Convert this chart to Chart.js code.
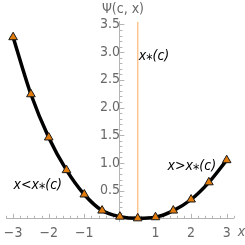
<!DOCTYPE html>
<html>
<head>
<meta charset="utf-8">
<script src="https://cdn.jsdelivr.net/npm/chart.js@4/dist/chart.umd.min.js"></script>
<style>
html,body{margin:0;padding:0;background:#fff;}
#c{display:block;}
</style>
</head>
<body>
<canvas id="c" width="245" height="245"></canvas>
<script>
// ---- data ----
const xValues = [-3, -2.5, -2, -1.5, -1, -0.5, 0, 0.5, 1, 1.5, 2, 2.5, 3];
const psiValues = [3.27, 2.24, 1.46, 0.87, 0.43, 0.14, 0.03, 0.0, 0.02, 0.14, 0.34, 0.65, 1.05];
const xStar = 0.5;
const xTickValues = [-3, -2, -1, 1, 2, 3];
const xTickLabels = ['\u22123', '\u22122', '\u22121', '1', '2', '3'];
const yTickValues = [0.5, 1.0, 1.5, 2.0, 2.5, 3.0, 3.5];
const yTickLabels = ['0.5', '1.0', '1.5', '2.0', '2.5', '3.0', '3.5'];
const xMinorStep = 0.2;
const yMinorStep = 0.1;
const annotations = [
  {text: 'x\u204E(c)', x: 0.53, y: 2.93},
  {text: 'x<x\u204E(c)', x: -2.99, y: 0.60},
  {text: 'x>x\u204E(c)', x: 1.34, y: 0.93}
];
const xAxisTitle = 'x';
const yAxisTitle = '\u03A8(c, x)';

const FONT = "'Liberation Sans Narrow', 'DejaVu Sans Condensed', 'Roboto Condensed', 'Liberation Sans', sans-serif";
const AXIS_COLOR = '#b4b4b4';
const LABEL_COLOR = '#686868';

const curve = xValues.map((x, i) => ({x: x, y: psiValues[i]}));
const starLine = [{x: xStar, y: 0}, {x: xStar, y: 3.55}];

const extras = {
  id: 'extras',
  beforeDatasetsDraw(chart) {
    const ctx = chart.ctx;
    const xs = chart.scales.x, ys = chart.scales.y;
    const x0 = xs.getPixelForValue(0), y0 = ys.getPixelForValue(0);
    ctx.save();
    ctx.strokeStyle = AXIS_COLOR;
    ctx.lineWidth = 1;
    for (let k = -16; k <= 16; k++) {
      const v = +(k * xMinorStep).toFixed(3);
      if (v < xs.min || v > xs.max || v === 0) continue;
      const major = Math.abs(v - Math.round(v)) < 1e-6;
      const px = Math.round(xs.getPixelForValue(v)) + 0.5;
      ctx.beginPath();
      ctx.moveTo(px, y0);
      ctx.lineTo(px, y0 - (major ? 4.5 : 2.5));
      ctx.stroke();
    }
    for (let k = 1; k <= 40; k++) {
      const v = +(k * yMinorStep).toFixed(3);
      if (v > ys.max) continue;
      const major = Math.abs(v * 2 - Math.round(v * 2)) < 1e-6;
      const py = Math.round(ys.getPixelForValue(v)) + 0.5;
      ctx.beginPath();
      ctx.moveTo(x0, py);
      ctx.lineTo(x0 + (major ? 4.5 : 2.5), py);
      ctx.stroke();
    }
    ctx.restore();
  },
  afterDraw(chart) {
    const ctx = chart.ctx;
    const xs = chart.scales.x, ys = chart.scales.y;
    ctx.save();
    ctx.fillStyle = '#000';
    ctx.font = 'italic 14px ' + FONT;
    ctx.textBaseline = 'middle';
    ctx.textAlign = 'left';
    annotations.forEach(a => {
      ctx.fillText(a.text, xs.getPixelForValue(a.x), ys.getPixelForValue(a.y));
    });
    ctx.fillStyle = LABEL_COLOR;
    ctx.font = 'italic 14px ' + FONT;
    ctx.fillText(xAxisTitle, xs.right + 4, ys.getPixelForValue(0) + 14);
    ctx.font = '14px ' + FONT;
    ctx.fillText(yAxisTitle, xs.getPixelForValue(0) - 18, 9);
    ctx.restore();
  }
};

function zeroPad(scale) {
  scale.paddingLeft = 0; scale.paddingRight = 0;
  scale.paddingTop = 0; scale.paddingBottom = 0;
}

new Chart(document.getElementById('c'), {
  type: 'scatter',
  data: {
    datasets: [
      {
        data: curve,
        showLine: true,
        borderColor: '#000',
        borderWidth: 3.5,
        tension: 0.4,
        cubicInterpolationMode: 'monotone',
        pointStyle: 'triangle',
        pointRadius: 5,
        pointBackgroundColor: '#e07b0c',
        pointBorderColor: '#1a1a1a',
        pointBorderWidth: 1,
        clip: false,
        order: 0
      },
      {
        data: starLine,
        showLine: true,
        borderColor: '#fcc690',
        borderWidth: 1.5,
        pointRadius: 0,
        order: 1
      }
    ]
  },
  options: {
    responsive: false,
    animation: false,
    events: [],
    layout: {padding: {left: 1.5, right: 11.2, top: 21.7, bottom: 23.9}},
    plugins: {legend: {display: false}, tooltip: {enabled: false}},
    scales: {
      x: {
        type: 'linear',
        min: -3.2, max: 3.2,
        position: {y: 0},
        afterFit: zeroPad,
        afterBuildTicks: s => { s.ticks = xTickValues.map(v => ({value: v})); },
        grid: {display: false, drawTicks: false},
        border: {display: true, color: AXIS_COLOR, width: 1},
        ticks: {
          padding: 7,
          color: LABEL_COLOR,
          font: {family: FONT, size: 14},
          maxRotation: 0,
          autoSkip: false,
          callback: (v) => xTickLabels[xTickValues.indexOf(v)]
        }
      },
      y: {
        type: 'linear',
        min: -0.05, max: 3.55,
        position: {x: 0},
        afterFit: zeroPad,
        afterBuildTicks: s => { s.ticks = yTickValues.map(v => ({value: v})); },
        grid: {display: false, drawTicks: false},
        border: {display: true, color: AXIS_COLOR, width: 1},
        ticks: {
          padding: 3,
          color: LABEL_COLOR,
          font: {family: FONT, size: 14},
          autoSkip: false,
          callback: (v) => yTickLabels[yTickValues.indexOf(v)]
        }
      }
    }
  },
  plugins: [extras]
});
</script>
</body>
</html>
